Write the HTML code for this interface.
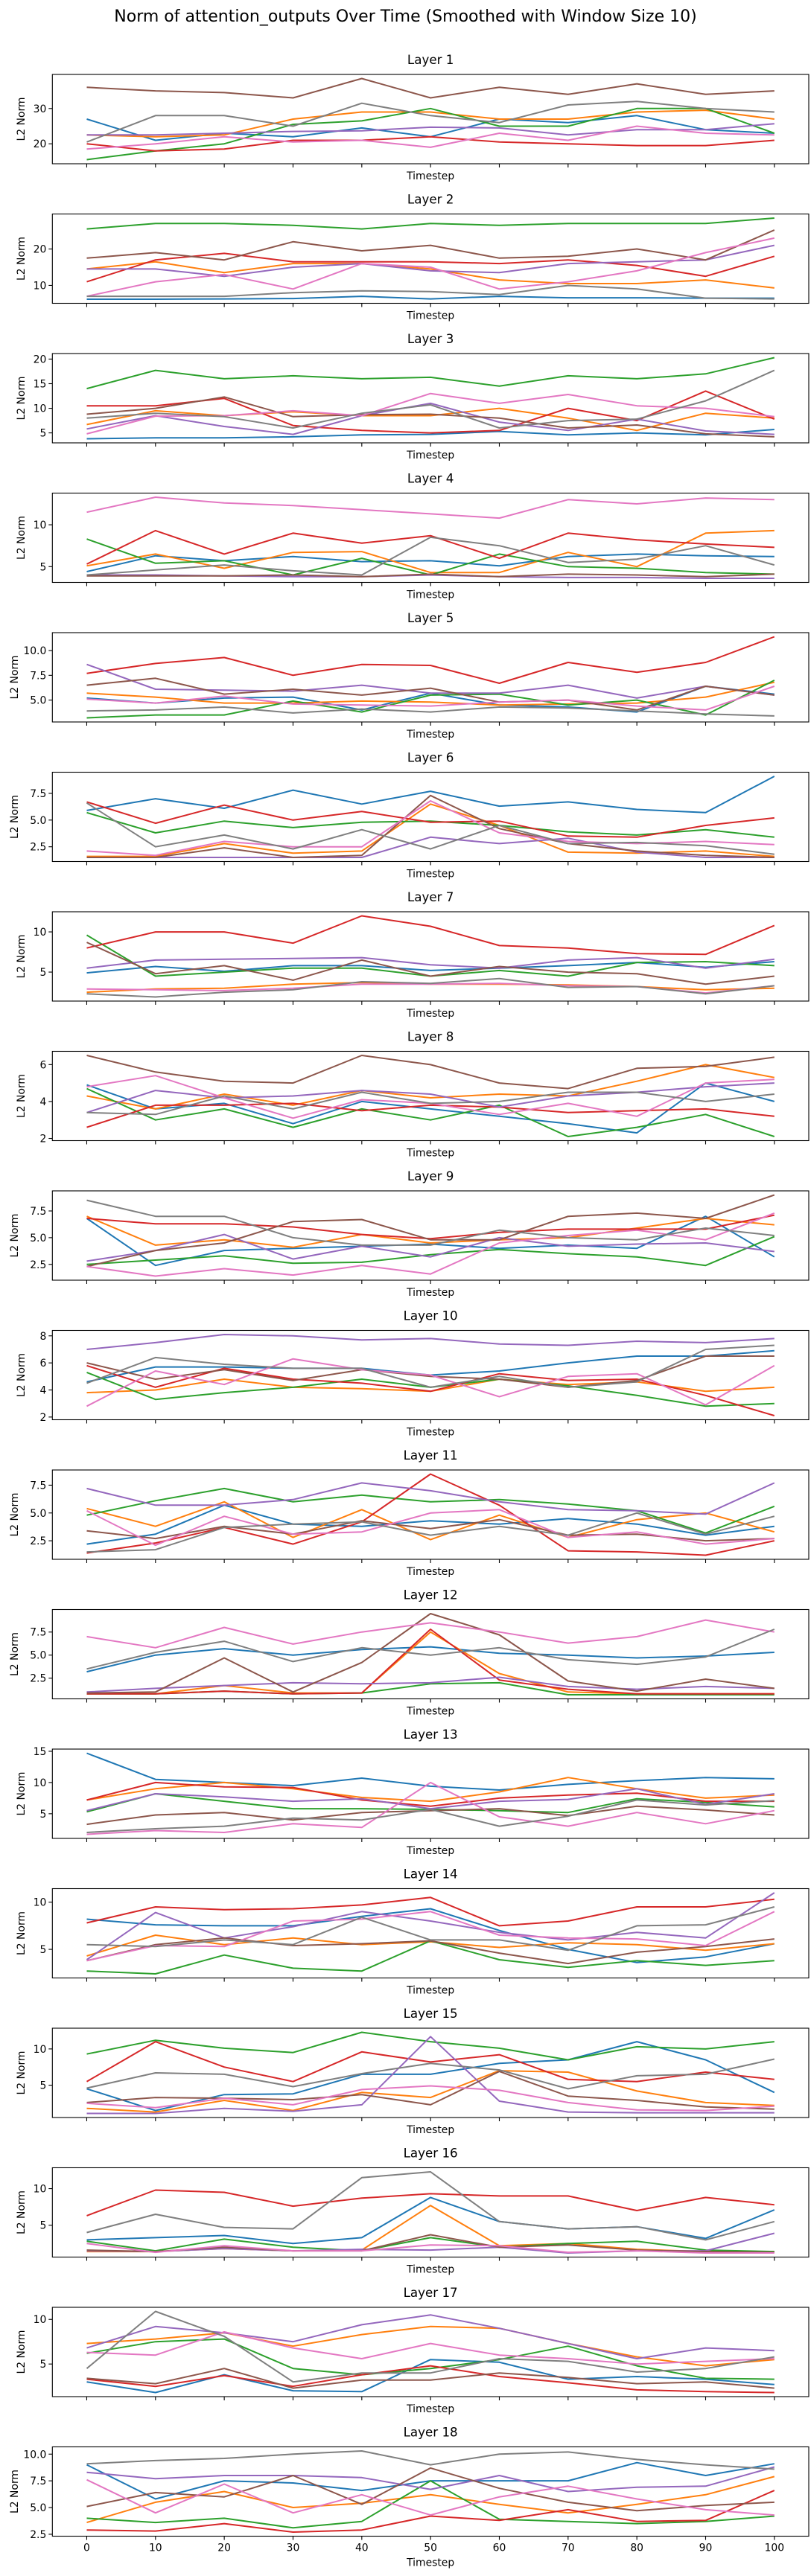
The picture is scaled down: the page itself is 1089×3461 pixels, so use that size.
<!DOCTYPE html>
<html><head><meta charset="utf-8">
<style>
html,body{margin:0;padding:0;background:#fff;}
svg{display:block;font-family:"DejaVu Sans","Liberation Sans",sans-serif;}
</style></head>
<body>
<svg id="fig" width="1089" height="3461" viewBox="0 0 1089 3461" xmlns="http://www.w3.org/2000/svg">
<rect x="0" y="0" width="1089" height="3461" fill="#fff"/>
<text x="544.5" y="29" font-size="22" text-anchor="middle" fill="#000">Norm of attention_outputs Over Time (Smoothed with Window Size 10)</text>
<g id="plots"></g>
</svg>
<script>
const timesteps = [0,10,20,30,40,50,60,70,80,90,100];
const xTicks = [0,10,20,30,40,50,60,70,80,90,100];
const seriesNames = ["head-0","head-1","head-2","head-3","head-4","head-5","head-6","head-7"];
const colors = ["#1f77b4","#ff7f0e","#2ca02c","#d62728","#9467bd","#8c564b","#e377c2","#7f7f7f"];
// order: blue, orange, green, red, purple, brown, pink, gray
const layer1 = [
 [27,21,23,22,24.5,22,27,26,28,24,23],
 [22.5,22,22.5,27,29,29,27,27,29,29.5,27],
 [15.5,18,20,25.5,26.5,30,25,25,30,30,23],
 [20,18,18.5,21,21,22,20.5,20,19.5,19.5,21],
 [22.5,22.5,23,23.5,23.7,24.7,24.5,22.5,24,24,25.7],
 [36,35,34.5,33,38.5,33,36,34,37,34,35],
 [18.5,20,22,20.5,21,19,23,21,25,23,22.5],
 [20.5,28,28,25,31.5,28,26,31,32,30,29]];
const layer2 = [
 [6.2,6.2,6.3,6.4,7,6.3,7,6.6,6.6,6.5,6.5],
 [14.5,16.5,13.5,16,16,14.5,11.5,10.5,10.5,11.5,9.3],
 [25.5,27,27,26.5,25.5,27,26.5,27,27,27,28.5],
 [11,17,18.8,16.5,16.5,16.5,16,17,15.5,12.5,18],
 [14.5,14.5,12.5,15,16,14,13.5,16,16.5,17,21],
 [17.5,19,17,22,19.5,21,17.5,18,20,17,25.2],
 [7,11,13,9,16,15,9,11,14,19,23],
 [7,7,7,8,8.5,8.3,7.5,10,9,6.5,6.3]];
const layer3 = [
 [3.8,4,4,4.2,4.6,4.7,5.3,4.6,5,4.6,5.7],
 [6.7,9.5,8.5,9.3,8.5,8.5,10,8,5.5,9,8],
 [14,17.7,16,16.6,16,16.3,14.5,16.6,16,17,20.3],
 [10.5,10.5,12,6.5,5.5,5,5.5,10,7.5,13.5,7.8],
 [5.8,8.5,6.3,4.7,8.5,11,7.2,5.5,7.8,5.4,4.7],
 [8.8,10,12.3,8.3,8.7,8.8,8,6,6.6,4.8,4.2],
 [4.8,8.4,8.5,9.5,8.5,13,11,12.8,10.5,10,8.3],
 [8,9,8.3,6,9,10.7,6,7.5,7.8,11.5,17.7]];
const layer4 = [
 [4.4,6.3,5.7,6.2,5.6,5.7,5.1,6.2,6.5,6.3,6.2],
 [5.1,6.5,4.8,6.7,6.8,4.3,4.3,6.7,5,9,9.3],
 [8.3,5.4,5.7,4,6,4,6.5,5,4.8,4.3,4.1],
 [5.3,9.3,6.5,9,7.8,8.7,6,9,8.2,7.7,7.3],
 [4,4,3.9,3.8,3.8,4,3.8,3.7,3.7,3.6,3.6],
 [3.9,3.9,3.9,4,3.8,4.1,3.8,4.1,4,3.8,4.1],
 [11.5,13.3,12.6,12.3,11.8,11.3,10.8,13,12.5,13.2,13],
 [4,4.6,5.2,4.5,4,8.5,7.5,5.5,5.9,7.5,5.2]];
const layer5 = [
 [5.2,4.7,5.2,5.3,4,5.7,4.5,4.3,3.8,6.4,5.6],
 [5.7,5.3,4.7,4.7,4.9,4.8,4.5,4.6,4.7,5.3,6.8],
 [3.2,3.5,3.5,4.9,3.8,5.5,5.6,4.5,5,3.5,7],
 [7.7,8.7,9.3,7.5,8.6,8.5,6.7,8.8,7.8,8.8,11.4],
 [8.6,6.1,6,5.9,6.5,5.7,5.7,6.5,5.2,6.4,5.5],
 [6.5,7.2,5.6,6.1,5.5,6.2,4.8,5,4,6.4,5.5],
 [5.1,4.7,5.4,4.6,4.5,4.4,4.8,5,4.4,4,6.4],
 [3.9,4,4.3,3.7,4.1,3.8,4.3,4.2,3.9,3.6,3.4]];
const layer6 = [
 [5.9,7,6.1,7.8,6.5,7.7,6.3,6.7,6,5.7,9.1],
 [1.6,1.6,2.8,1.9,2.1,6.5,4.5,2,1.9,2.1,1.6],
 [5.7,3.8,4.9,4.3,4.8,4.9,4.5,3.9,3.6,4.1,3.4],
 [6.7,4.7,6.4,5,5.8,4.8,4.9,3.5,3.4,4.5,5.2],
 [1.5,1.5,1.5,1.5,1.5,3.4,2.8,3.3,2,1.5,1.5],
 [1.5,1.5,2.4,1.5,1.7,7.3,4.2,2.8,2.1,1.7,1.5],
 [2.1,1.7,3,2.5,2.5,6.8,3.8,3,2.8,3,2.7],
 [6.6,2.5,3.6,2.3,4.1,2.3,4.5,2.8,2.9,2.6,1.8]];
const layer7 = [
 [4.9,5.7,5.1,5.8,5.8,5.2,5.5,5.8,6.2,5.6,6.3],
 [2.5,2.9,3,3.5,3.7,3.5,3.5,3.4,3.2,2.8,3],
 [9.6,4.5,5,5.5,5.5,4.5,5.2,4.5,6.2,6.3,5.8],
 [8,10,10,8.6,12,10.7,8.3,8,7.3,7.2,10.8],
 [5.5,6.5,6.6,6.7,6.8,5.9,5.5,6.5,6.8,5.5,6.6],
 [8.7,4.8,5.8,4,6.5,4.5,5.7,5,4.8,3.5,4.5],
 [2.9,2.8,2.7,3,3.5,3.5,3.6,3.3,3.2,2.4,3.3],
 [2.3,1.9,2.5,2.8,3.8,3.6,4.2,3.1,3.2,2.3,3.3]];
const layer8 = [
 [4.9,3.6,3.9,2.8,4,3.6,3.2,2.8,2.3,5,4],
 [4.3,3.6,4.4,3.8,4.6,4.2,4.4,4.3,5.1,6,5.3],
 [4.7,3,3.6,2.6,3.6,3,3.8,2.1,2.6,3.3,2.1],
 [2.6,3.8,3.8,3.9,3.5,3.8,3.7,3.4,3.5,3.6,3.2],
 [3.4,4.6,4.2,4.3,4.6,4.4,3.7,4.3,4.5,4.8,5],
 [6.5,5.6,5.1,5,6.5,6,5,4.7,5.8,5.9,6.4],
 [4.8,5.4,4.2,3.1,4.1,3.9,3.3,3.9,3.2,5,5.2],
 [3.4,3.3,4.3,3.6,4.5,3.9,4,4.5,4.5,4,4.4]];
const layer9 = [
 [6.8,2.4,3.8,4,4.2,4.4,4,4.3,4,7,3.2],
 [7,4.3,4.8,4.1,5.3,4.5,4.8,5,5.9,6.8,6.2],
 [2.5,2.9,3.3,2.6,2.7,3.4,3.9,3.5,3.2,2.4,5.1],
 [6.8,6.3,6.3,6,5.3,4.9,5.5,5.8,5.8,5.8,7.1],
 [2.8,3.8,5.3,3,4.2,3.2,5,4.2,4.4,4.5,3.7],
 [2.3,3.8,4.5,6.5,6.7,4.8,4.8,7,7.3,6.8,9],
 [2.3,1.4,2.1,1.5,2.4,1.6,4.5,5.2,5.7,4.8,7.3],
 [8.5,7,7,5,4.3,4.3,5.7,5,4.8,5.9,5.2]];
const layer10 = [
 [4.6,5.7,5.7,5.6,5.6,5.1,5.4,6,6.5,6.5,6.9],
 [3.8,4,4.8,4.2,4.1,3.9,4.8,4.4,4.6,3.9,4.2],
 [5.3,3.3,3.8,4.2,4.8,4.2,4.8,4.3,3.6,2.8,3],
 [5.8,4.2,5.6,4.8,4.5,3.9,5.2,4.7,4.8,3.6,2.1],
 [7,7.5,8.1,8,7.7,7.8,7.4,7.3,7.6,7.5,7.8],
 [6,4.8,5.5,4.7,5.5,5,4.8,4.2,4.7,6.5,6.5],
 [2.8,5.4,4.4,6.3,5.5,5.1,3.5,5,5.2,2.9,5.8],
 [4.5,6.4,5.9,5.6,5.6,4.2,5,4.2,4.6,7,7.3]];
const layer11 = [
 [2.2,3.1,5.7,4,3.8,4.3,4,4.5,4,3,3.8],
 [5.4,3.8,6,2.8,5.3,2.6,4.8,2.8,4.4,5,3.3],
 [4.8,6.1,7.2,6,6.6,6,6.2,5.8,5.2,3.2,5.6],
 [1.4,2.3,3.7,2.2,4.2,8.5,5.7,1.6,1.5,1.2,2.5],
 [7.2,5.7,5.7,6.2,7.7,7,6,5.3,5.2,4.9,7.7],
 [3.4,2.7,3.8,3.1,4.3,3.6,4.4,3,3.1,2.5,2.7],
 [5.2,2.1,4.7,3.1,3.3,5,5.3,2.8,3.3,2.2,2.7],
 [1.5,1.7,3.7,4,4.2,3,3.8,3,5,3.1,4.7]];
const layer12 = [
 [3.2,5,5.7,5,5.6,5.9,5.2,5,4.7,4.9,5.3],
 [0.8,0.8,1.7,0.9,0.9,7.5,3,1,0.8,0.8,0.8],
 [0.8,0.8,1.1,0.8,0.9,1.9,2,0.7,0.7,0.7,0.7],
 [0.8,0.8,1.1,0.8,0.9,7.8,2.3,1.3,0.8,0.8,0.8],
 [1,1.4,1.7,2,1.9,2,2.6,1.6,1.3,1.6,1.4],
 [0.9,1,4.7,1,4.2,9.5,7.2,2.2,1.1,2.4,1.4],
 [7,5.8,8,6.2,7.5,8.5,7.5,6.3,7,8.8,7.5],
 [3.5,5.3,6.5,4.3,5.8,5,5.8,4.5,4,4.8,7.8]];
const layer13 = [
 [14.7,10.5,10,9.5,10.7,9.4,8.8,9.7,10.3,10.8,10.6],
 [7.2,9,10,9,7.6,7,8.5,10.8,9,7.5,8],
 [5.3,8.2,7,5.8,5.8,5.7,5.5,5.2,7.4,6.8,6.1],
 [7.2,10,9.3,9.2,7.2,6.2,7.5,8,8.3,7,7],
 [5.5,8.2,7.7,7,7.4,5.8,7,7.3,9,6.5,8.2],
 [3.3,4.8,5.2,4,5.2,5.5,5.8,4.7,6.2,5.6,4.8],
 [1.7,2.3,2,3.4,2.8,10,4.5,3,5.2,3.4,5.5],
 [2,2.6,3,4.3,4,5.7,3,4.6,7.2,6.4,7.1]];
const layer14 = [
 [8.2,7.6,7.5,7.5,8.5,9.3,7,5,3.6,4.2,5.6],
 [4.3,6.5,5.5,6.2,5.5,5.8,5.2,5.7,5.5,4.9,5.6],
 [2.7,2.4,4.4,3,2.7,5.9,3.9,3.1,3.8,3.3,3.8],
 [7.8,9.5,9.2,9.3,9.7,10.5,7.5,8,9.5,9.5,10.3],
 [3.9,8.9,6.2,7.4,9,8,6.8,6,6.8,6.2,11],
 [3.8,5.5,6.2,5.4,5.6,5.9,4.6,3.5,4.7,5.3,6.1],
 [3.8,5.4,5.3,8,8.2,9,6.5,6.2,6.1,5.4,9],
 [5.5,5.3,6,5.5,8.4,6,6,4.9,7.5,7.6,9.5]];
const layer15 = [
 [4.5,1.5,3.7,3.8,6.5,6.5,8,8.5,11,8.5,4],
 [1.8,1.3,2.9,1.5,4,3.3,7,6.8,4.2,2.6,2.2],
 [9.3,11.2,10.1,9.5,12.3,11,10.1,8.5,10.3,10,11],
 [5.5,11,7.5,5.5,9.6,8.2,9.2,5.8,5.5,6.8,5.8],
 [1.1,1.1,1.8,1.4,2.3,11.7,2.8,1.3,1.2,1.2,1.2],
 [2.6,3.3,3.2,3,3.7,2.3,6.9,3.5,2.9,2,1.7],
 [2.5,1.9,3.2,2.3,4.4,4.9,4.3,2.6,1.6,1.5,2.1],
 [4.6,6.7,6.5,4.8,6.6,8,7.1,4.5,6.3,6.5,8.6]];
const layer16 = [
 [3,3.3,3.6,2.5,3.3,8.8,5.5,4.5,4.8,3.2,7.1],
 [1.4,1.4,1.8,1.5,1.6,7.7,2.2,2.5,1.7,1.4,1.4],
 [2.8,1.5,3.1,2,1.5,3.3,2,2.5,2.8,1.6,1.4],
 [6.3,9.8,9.5,7.6,8.7,9.3,9,9,7,8.8,7.8],
 [1.5,1.4,1.8,1.5,1.7,1.6,2,1.2,1.5,1.5,3.9],
 [1.6,1.4,2,1.5,1.5,3.7,2,2.3,1.6,1.4,1.3],
 [2.5,1.3,2.2,1.5,1.5,2.3,2.2,1.3,1.5,1.2,1.2],
 [4,6.5,4.7,4.5,11.5,12.3,5.5,4.5,4.8,3,5.5]];
const layer17 = [
 [3,1.8,3.8,2,1.9,5.5,5.2,3.3,3.6,3.3,2.7],
 [7.3,7.8,8.5,7,8.3,9.2,9,7.3,5.8,4.8,5.5],
 [6.2,7.5,7.8,4.5,3.8,4.5,5.5,7,4.8,3.4,3.3],
 [3.3,2.5,3.7,2.5,3.8,4.8,3.6,2.9,2.1,1.9,1.8],
 [6.8,9.2,8.5,7.5,9.4,10.5,9,7.3,5.6,6.8,6.5],
 [3.4,2.8,4.5,2.3,3.2,3.2,4,3.5,2.8,3,2.3],
 [6.3,6,8.6,6.8,5.6,7.3,6,5.6,5,5.3,5.6],
 [4.5,10.9,8.1,3,4,4,5.6,5.3,4.1,4.5,5.8]];
const layer18 = [
 [9,5.8,7.5,7.3,6.6,7.5,7.5,7.5,9.2,8,9.1],
 [3.6,5.5,6.5,5,5.4,6.2,5.3,4.5,5.3,6.2,7.9],
 [4,3.6,4,3.1,3.7,7.5,3.9,3.7,3.5,3.7,4.2],
 [2.9,2.8,3.5,2.7,2.9,4.2,3.8,4.8,3.7,3.8,6.6],
 [8.3,7.7,8,8,7.8,6.7,8,6.5,6.9,7,8.8],
 [5.1,6.4,6,8,5.3,8.7,6.8,5.5,4.7,5.2,5.5],
 [7.6,4.5,7.2,4.5,6.2,4.3,6,7,5.8,4.8,4.3],
 [9.1,9.4,9.6,10,10.3,9,10,10.2,9.5,9,8.6]];
const layers = [layer1,layer2,layer3,layer4,layer5,layer6,layer7,layer8,layer9,layer10,layer11,layer12,layer13,layer14,layer15,layer16,layer17,layer18];
const yTickValues = [[20,30],[10,20],[5,10,15,20],[5,10],[5,7.5,10],[2.5,5,7.5],[5,10],[2,4,6],[2.5,5,7.5],[2,4,6,8],[2.5,5,7.5],[2.5,5,7.5,10],[5,10,15],[5,10],[5,10],[5,10],[5,10],[2.5,5,7.5,10]];
const yTickDecimals = [0,0,0,0,1,1,0,0,1,0,1,1,0,0,0,0,0,1];

const NS = "http://www.w3.org/2000/svg";
const root = document.getElementById("plots");
const AX_L = 70.3, AX_R = 1086, AX_H = 120, TOP0 = 100, STEP = 187.5;
const xMin = -5, xMax = 105;
function xScale(t){ return AX_L + (t - xMin) / (xMax - xMin) * (AX_R - AX_L); }
function mk(tag, attrs, parent){
  const e = document.createElementNS(NS, tag);
  for (const k in attrs) e.setAttribute(k, attrs[k]);
  parent.appendChild(e);
  return e;
}
layers.forEach(function(series, li){
  const top = TOP0 + STEP * li, bot = top + AX_H;
  let mn = Infinity, mx = -Infinity;
  series.forEach(function(s){ s.forEach(function(v){ if (v < mn) mn = v; if (v > mx) mx = v; }); });
  const pad = (mx - mn) * 0.05;
  const y0 = mn - pad, y1 = mx + pad;
  function yScale(v){ return bot - (v - y0) / (y1 - y0) * AX_H; }
  const g = mk("g", {}, root);
  
  
  const title = mk("text", {x: (AX_L + AX_R) / 2, y: top - 14, "font-size": 16.7, "text-anchor": "middle", fill: "#000"}, g);
  title.textContent = "Layer " + (li + 1);
  
  
  const clipId = "clip" + li;
  const cp = mk("clipPath", {id: clipId}, g);
  mk("rect", {x: AX_L, y: top, width: AX_R - AX_L, height: AX_H}, cp);
  series.forEach(function(s, si){
    let d = "";
    s.forEach(function(v, i){ d += (i ? "L" : "M") + xScale(timesteps[i]).toFixed(1) + "," + yScale(v).toFixed(1); });
    const p = mk("path", {d: d, fill: "none", stroke: colors[si], "stroke-width": 2, "stroke-linejoin": "round", "clip-path": "url(#" + clipId + ")"}, g);
    
    
  });
  const frame = mk("rect", {x: AX_L, y: top, width: AX_R - AX_L, height: AX_H, fill: "none", stroke: "#000", "stroke-width": 1.1}, g);
  
  
  const last = li === layers.length - 1;
  xTicks.forEach(function(t){
    const x = xScale(t);
    mk("line", {x1: x, y1: bot, x2: x, y2: bot + 5, stroke: "#000", "stroke-width": 1.1}, g);
    if (last) {
      const tl = mk("text", {x: x, y: bot + 20, "font-size": 13.9, "text-anchor": "middle", fill: "#000"}, g);
      tl.textContent = String(t);
      
      
    }
  });
  let wide = false;
  yTickValues[li].forEach(function(v){
    const y = yScale(v);
    if (y < top - 0.5 || y > bot + 0.5) return;
    mk("line", {x1: AX_L - 5, y1: y, x2: AX_L, y2: y, stroke: "#000", "stroke-width": 1.1}, g);
    const lab = v.toFixed(yTickDecimals[li]);
    if (lab.length >= 3) wide = true;
    const tl = mk("text", {x: AX_L - 8, y: y + 5, "font-size": 13.9, "text-anchor": "end", fill: "#000"}, g);
    tl.textContent = lab;
    
    
  });
  const yl = wide ? 19 : 28;
  const ylab = mk("text", {x: yl, y: top + AX_H / 2, "font-size": 13.9, "text-anchor": "middle", fill: "#000", transform: "rotate(-90 " + yl + " " + (top + AX_H / 2) + ")", dy: "0.35em"}, g);
  ylab.textContent = "L2 Norm";
  
  
  const xl = mk("text", {x: (AX_L + AX_R) / 2, y: last ? bot + 40 : bot + 21, "font-size": 13.9, "text-anchor": "middle", fill: "#000"}, g);
  xl.textContent = "Timestep";
  
  
});
</script>
</body></html>
